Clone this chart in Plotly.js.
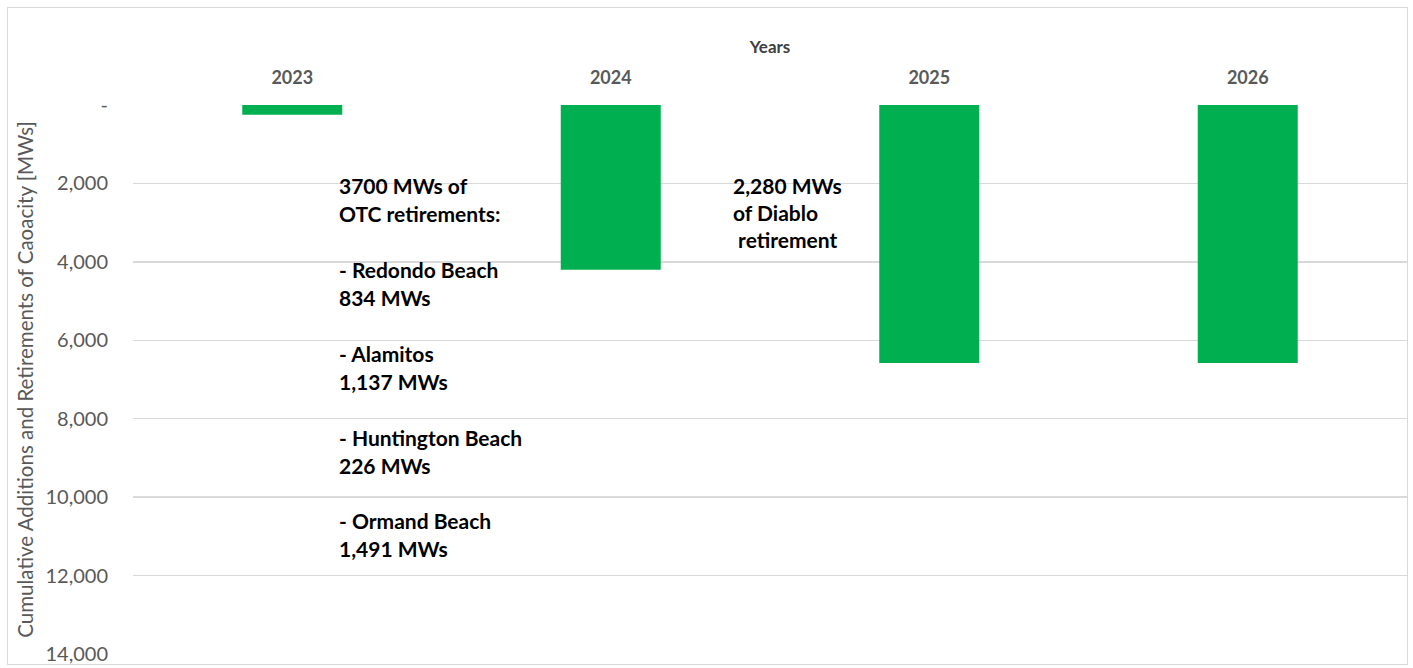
<!DOCTYPE html>
<html>
<head>
<meta charset="utf-8">
<script src="https://cdn.plot.ly/plotly-3.0.1.min.js"></script>
<style>
  html, body { margin: 0; padding: 0; background: #fff; }
  #wrap { position: relative; width: 1413px; height: 668px; overflow: hidden; }
  #chart { width: 1413px; height: 668px; }
  #frame { position: absolute; left: 7px; top: 7px; width: 1401px; height: 658px;
           border: 1.5px solid #D9D9D9; box-sizing: border-box; pointer-events: none; }
</style>
</head>
<body>
<div id="wrap"><div id="chart"></div><div id="frame"></div></div>
<script>
// ---- data ----
const years = ["2023", "2024", "2025", "2026"];
const cumulativeMW = [250, 4200, 6580, 6580];
const yTickVals = [0, 2000, 4000, 6000, 8000, 10000, 12000, 14000];
const yTickText = ["-", "2,000", "4,000", "6,000", "8,000", "10,000", "12,000", "14,000"];
const otcLines = ["3700 MWs of", "OTC retirements:", "", "- Redondo Beach", "834 MWs", "",
                  "- Alamitos", "1,137 MWs", "", "- Huntington Beach", "226 MWs", "",
                  "- Ormand Beach", "1,491 MWs"];
const diabloLines = ["2,280 MWs", "of Diablo", "\u00a0retirement"];

// ---- layout geometry ----
const W = 1413, H = 668;
const M = { l: 133, r: 6, t: 105, b: 14 };
const PW = W - M.l - M.r, PH = H - M.t - M.b;
const px2paperX = px => (px - M.l) / PW;
const px2paperY = py => 1 - (py - M.t) / PH;

const font = "Lato, 'Open Sans', 'DejaVu Sans', sans-serif";
const annotations = [];
function addBlock(lines, x0, y0, step) {
  lines.forEach((t, i) => {
    if (!t) return;
    annotations.push({
      text: "<b>" + t + "</b>", xref: "paper", yref: "paper",
      x: px2paperX(x0), y: px2paperY(y0 + i * step),
      xanchor: "left", yanchor: "middle", showarrow: false, align: "left",
      font: { family: font, size: 21, color: "#000000" }
    });
  });
}
addBlock(otcLines, 337, 186, 27.9);
addBlock(diabloLines, 731, 185, 27);

const trace = {
  type: "bar", x: years, y: cumulativeMW, width: 0.314,
  marker: { color: "#00B050", line: { width: 0 } },
  hoverinfo: "x+y"
};

const layout = {
  width: W, height: H, margin: M,
  paper_bgcolor: "#ffffff", plot_bgcolor: "#ffffff",
  showlegend: false,
  font: { family: font, color: "#595959" },
  xaxis: {
    side: "top", type: "category", showgrid: false, zeroline: false, showline: false,
    ticks: "", ticklabelstandoff: 16,
    tickfont: { family: font, size: 18, color: "#595959", weight: "bold" },
    title: { text: "<b>Years</b>", font: { family: font, size: 17, color: "#404040" }, standoff: 8 }
  },
  yaxis: {
    range: [14000, 0], tickvals: yTickVals, ticktext: yTickText,
    showgrid: true, gridcolor: "#D9D9D9", gridwidth: 1.5, zeroline: false, showline: false,
    ticks: "", ticklabelstandoff: 24,
    tickfont: { family: font, size: 20, color: "#595959" },
    title: { text: "Cumulative Additions and Retirements of Caoacity [MWs]",
             font: { family: font, size: 20.5, color: "#595959" }, standoff: 6 }
  },
  annotations: annotations
};

Plotly.newPlot("chart", [trace], layout, { displayModeBar: false, staticPlot: true });
</script>
</body>
</html>
